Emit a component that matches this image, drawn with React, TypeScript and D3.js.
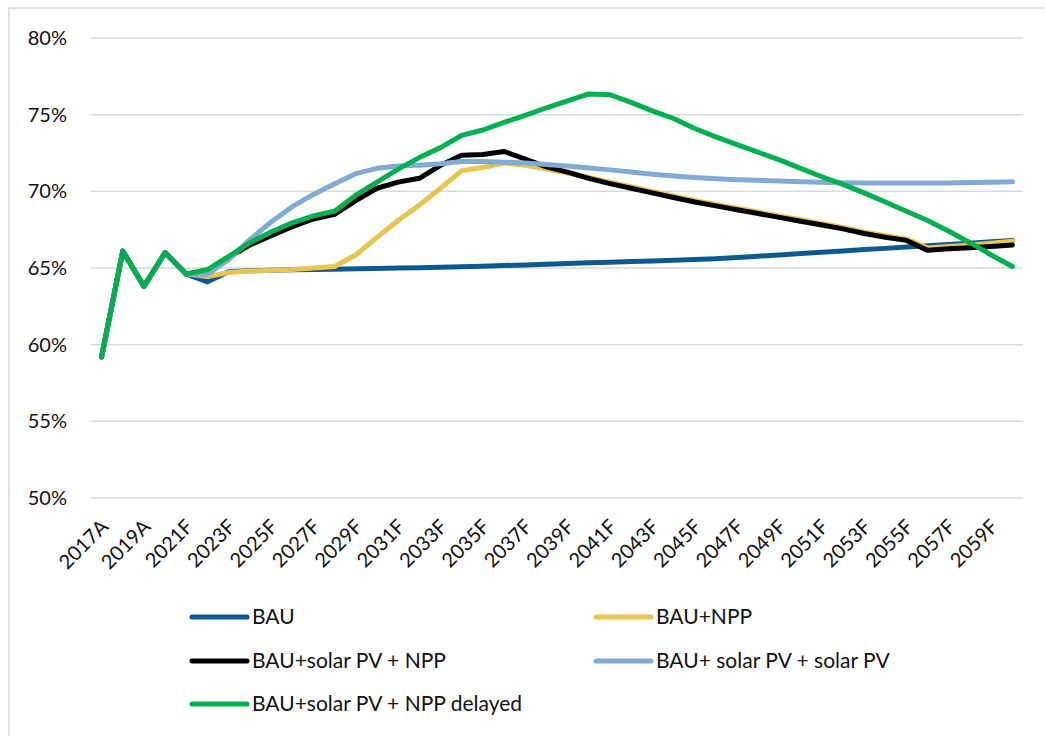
import * as d3 from "d3";
import { useEffect, useRef } from "react";

const years = [
  "2017A", "2018A", "2019A", "2020A", "2021F", "2022F", "2023F", "2024F", "2025F", "2026F",
  "2027F", "2028F", "2029F", "2030F", "2031F", "2032F", "2033F", "2034F", "2035F", "2036F",
  "2037F", "2038F", "2039F", "2040F", "2041F", "2042F", "2043F", "2044F", "2045F", "2046F",
  "2047F", "2048F", "2049F", "2050F", "2051F", "2052F", "2053F", "2054F", "2055F", "2056F",
  "2057F", "2058F", "2059F", "2060F",
];

const bau = [
  59.2, 66.1, 63.8, 66.0, 64.6, 64.1, 64.75, 64.82, 64.85, 64.88,
  64.9, 64.92, 64.95, 64.97, 65.0, 65.02, 65.05, 65.08, 65.12, 65.16,
  65.2, 65.24, 65.29, 65.34, 65.38, 65.42, 65.46, 65.5, 65.55, 65.6,
  65.68, 65.77, 65.85, 65.94, 66.02, 66.11, 66.2, 66.28, 66.37, 66.45,
  66.54, 66.62, 66.71, 66.8,
];

const bauNpp = [
  59.2, 66.1, 63.8, 66.0, 64.6, 64.45, 64.7, 64.8, 64.85, 64.9,
  65.0, 65.1, 65.85, 67.0, 68.1, 69.1, 70.2, 71.35, 71.55, 71.85,
  71.7, 71.45, 71.2, 70.9, 70.6, 70.3, 70.0, 69.7, 69.4, 69.15,
  68.9, 68.65, 68.4, 68.15, 67.9, 67.65, 67.35, 67.1, 66.9, 66.3,
  66.4, 66.5, 66.62, 66.75,
];

const bauPvNpp = [
  59.2, 66.1, 63.8, 66.0, 64.6, 64.85, 65.7, 66.5, 67.1, 67.7,
  68.2, 68.5, 69.4, 70.2, 70.6, 70.85, 71.7, 72.35, 72.4, 72.6,
  72.1, 71.6, 71.25, 70.85, 70.5, 70.2, 69.9, 69.6, 69.3, 69.05,
  68.8, 68.55, 68.3, 68.05, 67.8, 67.55, 67.25, 67.0, 66.8, 66.15,
  66.25, 66.32, 66.4, 66.5,
];

const bauPvPv = [
  59.2, 66.1, 63.8, 66.0, 64.6, 64.6, 65.55, 66.85, 68.0, 69.0,
  69.8, 70.5, 71.15, 71.5, 71.65, 71.7, 71.8, 71.95, 71.95, 71.9,
  71.85, 71.75, 71.65, 71.52, 71.4, 71.26, 71.12, 71.0, 70.9, 70.82,
  70.76, 70.72, 70.68, 70.63, 70.6, 70.56, 70.55, 70.55, 70.55, 70.55,
  70.55, 70.57, 70.59, 70.62,
];

const bauPvNppDelayed = [
  59.2, 66.1, 63.8, 66.0, 64.6, 64.9, 65.75, 66.65, 67.35, 67.95,
  68.4, 68.7, 69.75, 70.6, 71.45, 72.2, 72.85, 73.65, 74.0, 74.5,
  74.95, 75.45, 75.9, 76.35, 76.3, 75.8, 75.25, 74.75, 74.1, 73.55,
  73.05, 72.55, 72.05, 71.5, 70.95, 70.45, 69.9, 69.3, 68.7, 68.1,
  67.4, 66.65, 65.85, 65.1,
];

const yTicks = [50, 55, 60, 65, 70, 75, 80];

const series = [
  { name: "BAU", values: bau, color: "#0e5a8e" },
  { name: "BAU+NPP", values: bauNpp, color: "#e6c651" },
  { name: "BAU+solar PV + NPP", values: bauPvNpp, color: "#000000" },
  { name: "BAU+ solar PV + solar PV", values: bauPvPv, color: "#80abd5" },
  { name: "BAU+solar PV + NPP delayed", values: bauPvNppDelayed, color: "#00b050" },
];

const W = 1045;
const H = 736;
const FONT = "Lato, 'Open Sans', sans-serif";

export default function App() {
  const ref = useRef(null);

  useEffect(() => {
    const svg = d3.select(ref.current);
    svg.selectAll("*").remove();

    const left = 91;
    const right = 1023;
    const top = 38;
    const bottom = 498;

    const x = d3.scaleBand().domain(years).range([left, right]).paddingInner(0).paddingOuter(0);
    const y = d3.scaleLinear().domain([50, 80]).range([bottom, top]);
    const cx = (d) => x(d) + x.bandwidth() / 2;

    // chart border (cropped on the right and bottom)
    svg
      .append("rect")
      .attr("x", 9)
      .attr("y", 8)
      .attr("width", 1200)
      .attr("height", 900)
      .attr("fill", "#fff")
      .attr("stroke", "#d9d9d9")
      .attr("stroke-width", 1.5);

    svg
      .append("g")
      .selectAll("line")
      .data(yTicks)
      .enter()
      .append("line")
      .attr("x1", left)
      .attr("x2", right)
      .attr("y1", (d) => y(d))
      .attr("y2", (d) => y(d))
      .attr("stroke", "#d9d9d9")
      .attr("stroke-width", 1.5);

    svg
      .append("g")
      .selectAll("text")
      .data(yTicks)
      .enter()
      .append("text")
      .attr("x", 67)
      .attr("y", (d) => y(d))
      .attr("dy", "0.35em")
      .attr("text-anchor", "end")
      .attr("font-family", FONT)
      .attr("font-size", 20)
      .attr("fill", "#111")
      .text((d) => `${d}%`);

    svg
      .append("g")
      .selectAll("text")
      .data(years.filter((d, i) => i % 2 === 0))
      .enter()
      .append("text")
      .attr("transform", (d) => `translate(${cx(d) + 8},${528}) rotate(-45)`)
      .attr("text-anchor", "end")
      .attr("font-family", FONT)
      .attr("font-size", 20)
      .attr("fill", "#111")
      .text((d) => d);

    const line = d3
      .line()
      .x((d, i) => cx(years[i]))
      .y((d) => y(d));

    series.forEach((s) => {
      svg
        .append("path")
        .datum(s.values)
        .attr("d", line)
        .attr("fill", "none")
        .attr("stroke", s.color)
        .attr("stroke-width", 5)
        .attr("stroke-linejoin", "round")
        .attr("stroke-linecap", "round");
    });

    // legend
    const legendPos = [
      [192, 617],
      [596, 617],
      [192, 661],
      [596, 661],
      [192, 704],
    ];
    const lg = svg.append("g");
    series.forEach((s, i) => {
      const [lx, ly] = legendPos[i];
      lg.append("line")
        .attr("x1", lx)
        .attr("x2", lx + 55)
        .attr("y1", ly)
        .attr("y2", ly)
        .attr("stroke", s.color)
        .attr("stroke-width", 5)
        .attr("stroke-linecap", "round");
      lg.append("text")
        .attr("x", lx + 60)
        .attr("y", ly)
        .attr("dy", "0.35em")
        .attr("font-family", FONT)
        .attr("font-size", 21)
        .attr("fill", "#111")
        .text(s.name);
    });
  }, []);

  return (
    <svg
      ref={ref}
      width={W}
      height={H}
      style={{ position: "absolute", left: 0, top: 0, background: "#fff" }}
    />
  );
}
